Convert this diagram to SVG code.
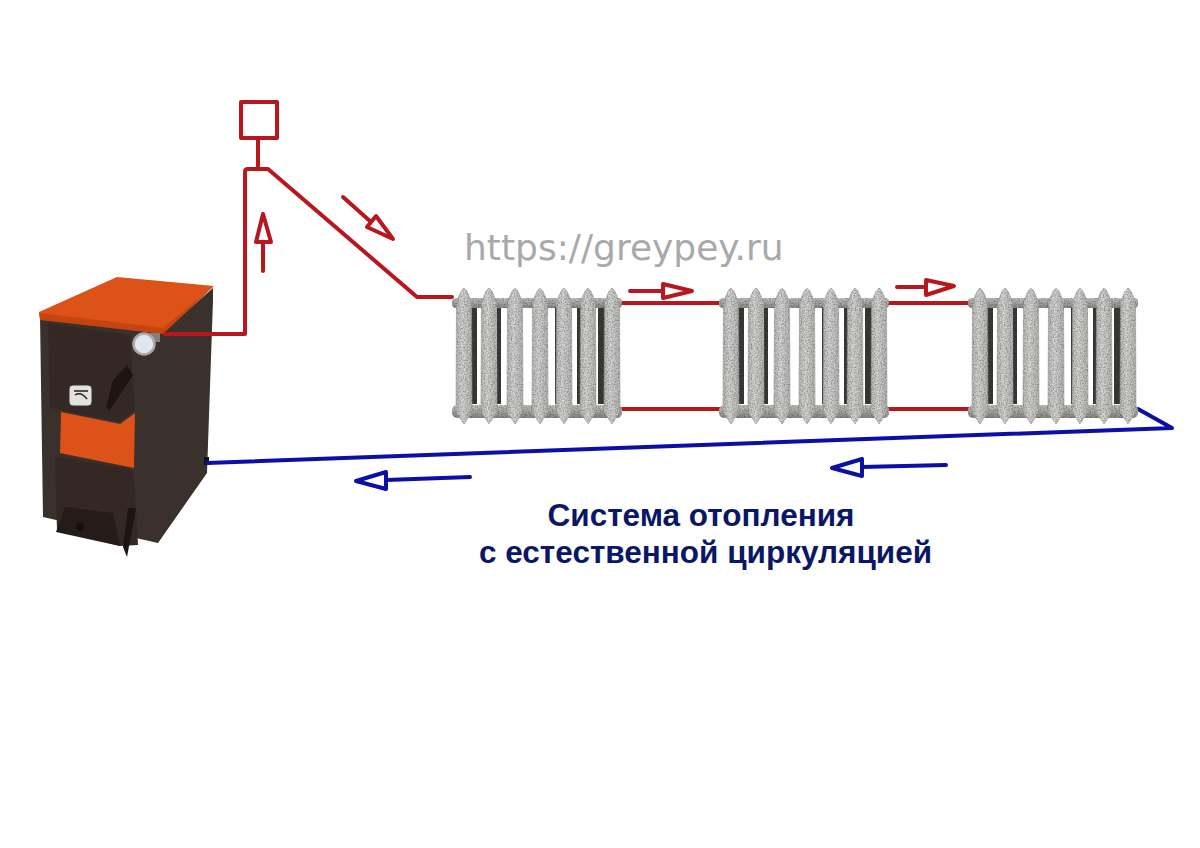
<svg xmlns="http://www.w3.org/2000/svg" width="1200" height="848" viewBox="0 0 1200 848">
<style>
.red{fill:none;stroke:#b8171d;stroke-width:4;stroke-linejoin:round;stroke-linecap:round}
.blue{fill:none;stroke:#0a0fa6;stroke-width:4;stroke-linejoin:round;stroke-linecap:round}
.fin{fill:url(#fg);stroke:#a5a5a3;stroke-width:.6}
.hdr{fill:url(#hg)}
.shd{fill:#3c3c3a}
.body{fill:#3a302c}
.dark{fill:#332824}
.or{fill:#dc5218}
.cap{font-family:"Liberation Sans",Arial,sans-serif;font-weight:bold;font-size:31.500px;fill:#0a1766;text-anchor:middle}
.url{font-family:"DejaVu Sans",sans-serif;font-size:36px;fill:#a9a9a9}
</style>
<defs>
<linearGradient id="fg" x1="0" x2="1" y1="0" y2="0"><stop offset="0" stop-color="#bcbcba"/><stop offset=".4" stop-color="#dadad8"/><stop offset="1" stop-color="#b8b8b6"/></linearGradient>
<linearGradient id="hg" x1="0" x2="0" y1="0" y2="1"><stop offset="0" stop-color="#c8c8c6"/><stop offset="1" stop-color="#8c8c8a"/></linearGradient>
<filter id="grain" x="0" y="0" width="100%" height="100%" color-interpolation-filters="sRGB"><feTurbulence type="fractalNoise" baseFrequency="0.7" numOctaves="2" seed="4"/><feColorMatrix values="0 0 0 0 0  0 0 0 0 0  0 0 0 0 0  0.7 0 0 0 -0.25"/><feComposite in2="SourceGraphic" operator="in"/><feMerge><feMergeNode in="SourceGraphic"/><feMergeNode/></feMerge></filter>
<filter id="soft" x="-5%" y="-5%" width="110%" height="110%" color-interpolation-filters="sRGB"><feGaussianBlur stdDeviation=".5"/></filter>
<path id="f" class="fin" d="M0 288Q3 290 5 296L7.500 303 8 412 0 424-8 412-7.500 303-5 296Q-3 290 0 288Z"/>
<g id="rad" filter="url(#grain)">
<rect class="hdr" x="452" y="298" width="170" height="10" rx="4"/>
<rect class="hdr" x="452" y="405" width="170" height="13" rx="5"/>
<rect class="shd" x="471" y="308" width="6" height="96"/><rect class="shd" x="497" y="308" width="4" height="96"/><rect class="shd" x="555" y="308" width="3" height="96"/><rect class="shd" x="577" y="308" width="4" height="96"/><rect class="shd" x="598" y="308" width="7" height="96"/>
<use href="#f" x="464"/><use href="#f" x="489"/><use href="#f" x="515"/><use href="#f" x="540"/><use href="#f" x="564"/><use href="#f" x="588"/><use href="#f" x="612"/>
</g>
</defs>
<rect width="1200" height="848" fill="#fff"/>
<g id="boiler" filter="url(#soft)">
<path class="body" d="M40 316L163 332 213 288 213 300 207 473 158 543 43 517Z"/>
<path class="dark" d="M48 323L130 335 135 410 120 422 50 408Z"/>
<path class="or" d="M39 312L117 277 214 286 163 332 40 318Z"/>
<path fill="#c44510" d="M39 313L163 328 214 286 163 334 40 320Z"/>
<path class="or" d="M61 412L120 424 135 413 134 468 60 453Z"/>
<path class="dark" d="M55 456L133 470 136 508 138 545 120 546 57 530Z"/>
<path fill="#251b18" d="M65 507L113 513 120 546 56 532Z"/>
<path fill="#1c1513" d="M127 365L133 375 110 410 106 408 113 380Z"/>
<path fill="#1c1513" d="M128 508L136 508 127 557 123 547Z"/>
<circle cx="80" cy="527" r="4" fill="#111"/>
<rect x="69" y="385" width="23" height="21" rx="4" fill="#e4e2de" stroke="#333"/>
<path d="M74 391H88M75 395Q81 391 87 399" fill="none" stroke="#222" stroke-width="1.500"/>
<path d="M204 457H209V465H204Z" fill="#111"/>
<rect x="150" y="333" width="10" height="9" fill="#8a7f78"/>
<circle cx="144" cy="344" r="10.500" fill="#dfe6ee" stroke="#a8a8a8" stroke-width="2.500"/>
</g>
<g id="connectors">
<path class="red" d="M165 334H245V172Q245 169 248 169H268L417 297H452"/>
<path class="red" d="M258 138V169"/>
<path class="red" d="M622 303H720M622 409H720M888 303H971M888 409H971"/>
<path class="blue" d="M207 463L1172 428 1138 409"/>
<g id="flow-arrows">
<path class="red" d="M263 271V242M256 242H271L263 214Z"/>
<path class="red" d="M343 197L371 222M376 216L367 227 393 239Z"/>
<path class="red" d="M630 291H663M663 284V298L692 291Z"/>
<path class="red" d="M897 287H926M926 280V295L954 286Z"/>
<path class="blue" d="M470 477L386 480M386 472V489L356 481Z"/>
<path class="blue" d="M946 465L862 467M862 459V476L832 468Z"/>
</g>
</g>
<g id="tank"><rect class="red" x="241" y="102" width="36" height="36"/></g>
<g id="radiator-1"><use href="#rad"/></g>
<g id="radiator-2"><use href="#rad" x="267"/></g>
<g id="radiator-3"><use href="#rad" x="516"/></g>
<text class="url" x="464" y="260">https://greypey.ru</text>
<text class="cap" x="701" y="526">Система отопления</text>
<text class="cap" x="705.500" y="563">с естественной циркуляцией</text>
</svg>
